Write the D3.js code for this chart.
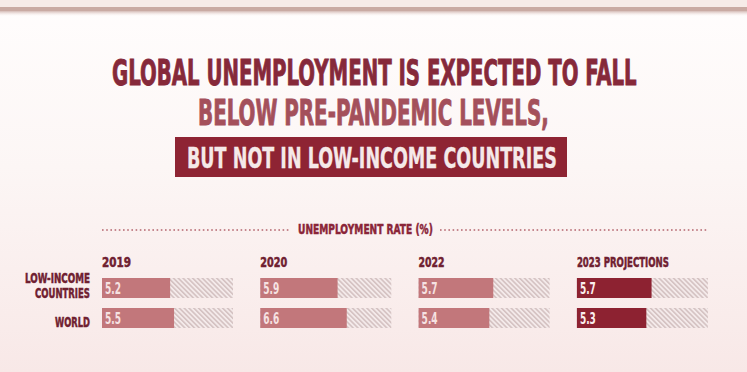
<!DOCTYPE html>
<html>
<head>
<meta charset="utf-8">
<script src="https://cdn.jsdelivr.net/npm/d3@7"></script>
<style>
  html, body { margin: 0; padding: 0; background: #fdf8f7; }
  svg { display: block; }
  text { font-family: "Liberation Sans Narrow", "DejaVu Sans Condensed", "Roboto", sans-serif; font-weight: 700; }
</style>
</head>
<body>
<svg id="chart" width="747" height="372"></svg>
<script>
// Unemployment rate (%) by period
const periods = ["2019", "2020", "2022", "2023 PROJECTIONS"];
const groups = ["LOW-INCOME COUNTRIES", "WORLD"];
const lowIncome = [5.2, 5.9, 5.7, 5.7];
const world = [5.5, 6.6, 5.4, 5.3];
const rateMax = 10;

const W = 747, H = 372;
const svg = d3.select("#chart");
const defs = svg.append("defs");

// page background: white fading to a soft blush
const bg = defs.append("linearGradient").attr("id", "bg").attr("x1", 0).attr("y1", 0).attr("x2", 0).attr("y2", 1);
bg.append("stop").attr("offset", "0%").attr("stop-color", "#fffdfd");
bg.append("stop").attr("offset", "45%").attr("stop-color", "#fcf6f5");
bg.append("stop").attr("offset", "100%").attr("stop-color", "#f8e8e7");
svg.append("rect").attr("width", W).attr("height", H).attr("fill", "url(#bg)");

// top rule with a faint shadow
const sh = defs.append("linearGradient").attr("id", "sh").attr("x1", 0).attr("y1", 0).attr("x2", 0).attr("y2", 1);
sh.append("stop").attr("offset", "0%").attr("stop-color", "#cfb3ad").attr("stop-opacity", 0.9);
sh.append("stop").attr("offset", "100%").attr("stop-color", "#f3e6e3").attr("stop-opacity", 0);
svg.append("rect").attr("x", 0).attr("y", 0).attr("width", W).attr("height", 7).attr("fill", "#f6ebe8");
svg.append("rect").attr("x", 0).attr("y", 7).attr("width", W).attr("height", 4).attr("fill", "#c9aaa3");
svg.append("rect").attr("x", 0).attr("y", 11).attr("width", W).attr("height", 5).attr("fill", "url(#sh)");

// hatch pattern for the bar tracks
const hatch = defs.append("pattern").attr("id", "hatch")
  .attr("patternUnits", "userSpaceOnUse").attr("width", 3.4).attr("height", 3.4)
  .attr("patternTransform", "rotate(-45)");
hatch.append("rect").attr("width", 3.4).attr("height", 3.4).attr("fill", "#f4eaea");
hatch.append("line").attr("x1", 0.8).attr("y1", 0).attr("x2", 0.8).attr("y2", 3.4)
  .attr("stroke", "#cdb8b9").attr("stroke-width", 1.3);

// condensed text: set at its natural size, then squeezed horizontally to a given width
function fitText(sel, left, baseline, len, size, color, txt, weight) {
  const t = sel.append("text").attr("x", 0).attr("y", 0)
    .attr("font-size", size).attr("fill", color).text(txt);
  if (weight) t.attr("stroke", color).attr("stroke-width", weight).attr("paint-order", "stroke");
  const natural = t.node().getComputedTextLength();
  t.attr("transform", `translate(${left},${baseline}) scale(${len / natural},1)`);
  return t;
}

// headline
const head = svg.append("g");
fitText(head, 112, 85, 525, 35, "#86293a", "GLOBAL UNEMPLOYMENT IS EXPECTED TO FALL", 0.9);
fitText(head, 198, 125, 351, 35, "#a4505b", "BELOW PRE-PANDEMIC LEVELS,", 0.9);
head.append("rect").attr("x", 175).attr("y", 137).attr("width", 392).attr("height", 40).attr("fill", "#8e2433");
fitText(head, 187, 168, 370, 29, "#f5e9e9", "BUT NOT IN LOW-INCOME COUNTRIES", 0.3);

// scales
const x = d3.scaleBand().domain(periods).range([102, 102 + 4 * 158.3]);
const v = d3.scaleLinear().domain([0, rateMax]).range([0, 131]);
const y = d3.scaleBand().domain(groups).range([278, 328]).paddingInner(1 / 3).paddingOuter(0);

// section header with dotted leaders
const dotted = svg.append("g").attr("stroke", "#b4646d").attr("stroke-width", 1.6)
  .attr("stroke-dasharray", "1.6,2.6");
dotted.append("line").attr("x1", x(periods[0])).attr("x2", 291).attr("y1", 230).attr("y2", 230);
dotted.append("line").attr("x1", 440).attr("x2", x(periods[3]) + v(rateMax)).attr("y1", 230).attr("y2", 230);
fitText(svg, 298, 233.5, 135, 14, "#8a2538", "UNEMPLOYMENT RATE (%)", 0.5);

// period labels
const periodWidths = { "2019": 29, "2020": 27, "2022": 26, "2023 PROJECTIONS": 92 };
const pg = svg.append("g");
periods.forEach(p => fitText(pg, x(p), 267, periodWidths[p], 14, "#6f2030", p, 0.5));

// row labels, right-aligned against the bars
const rg = svg.append("g");
const lowY = y(groups[0]), worldY = y(groups[1]);
fitText(rg, 90 - 65, lowY + 5, 65, 14, "#6f2030", "LOW-INCOME", 0.5);
fitText(rg, 90 - 55, lowY + 20, 55, 14, "#6f2030", "COUNTRIES", 0.5);
fitText(rg, 90 - 35, worldY + 19, 35, 14, "#6f2030", "WORLD", 0.5);

// bars
const rows = [
  { group: groups[0], values: lowIncome },
  { group: groups[1], values: world }
];
const cells = rows.flatMap(r => r.values.map((val, i) => ({ group: r.group, period: periods[i], value: val, proj: i === periods.length - 1 })));

const g = svg.append("g");
g.selectAll("rect.track").data(cells).join("rect").attr("class", "track")
  .attr("x", d => x(d.period)).attr("y", d => y(d.group))
  .attr("width", v(rateMax)).attr("height", y.bandwidth())
  .attr("fill", "url(#hatch)");
g.selectAll("rect.bar").data(cells).join("rect").attr("class", "bar")
  .attr("x", d => x(d.period)).attr("y", d => y(d.group))
  .attr("width", d => v(d.value)).attr("height", y.bandwidth())
  .attr("fill", d => d.proj ? "#8d2231" : "#c2777b");
const vg = g.append("g");
cells.forEach(d => fitText(vg, x(d.period) + 3, y(d.group) + 16, 16, 16,
  d.proj ? "#fbeeee" : "#f6e2e2", d3.format(".1f")(d.value)));
</script>
</body>
</html>
